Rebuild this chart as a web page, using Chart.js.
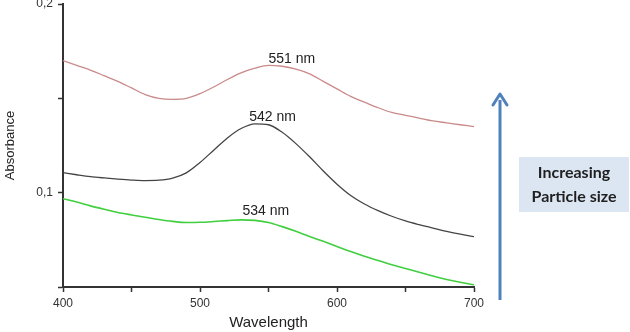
<!DOCTYPE html>
<html>
<head>
<meta charset="utf-8">
<script src="https://cdn.jsdelivr.net/npm/chart.js@4/dist/chart.umd.min.js"></script>
<style>
    html, body { margin: 0; padding: 0; background: #fff; }
    #wrap { width: 630px; height: 332px; position: relative; }
</style>
</head>
<body>
<div id="wrap"><canvas id="absChart" width="630" height="332"></canvas></div>
<script>

var wavelengths = [400, 410, 420, 430, 440, 450, 460, 470, 480, 490, 500, 510, 520, 530, 540, 550,
    560, 570, 580, 590, 600, 610, 620, 630, 640, 650, 660, 670, 680, 690, 700];

var largeParticles = [0.1700, 0.1675, 0.1650, 0.1620, 0.1590, 0.1555, 0.1520, 0.1500, 0.1495, 0.1500,
    0.1525, 0.1560, 0.1600, 0.1635, 0.1660, 0.1675, 0.1670, 0.1655, 0.1630, 0.1590, 0.1550, 0.1510,
    0.1480, 0.1450, 0.1425, 0.1410, 0.1395, 0.1380, 0.1370, 0.1360, 0.1350];

var mediumParticles = [0.1106, 0.1095, 0.1085, 0.1078, 0.1072, 0.1067, 0.1064, 0.1066, 0.1077, 0.1105,
    0.1160, 0.1225, 0.1290, 0.1340, 0.1365, 0.1360, 0.1320, 0.1260, 0.1190, 0.1115, 0.1045, 0.0985,
    0.0940, 0.0905, 0.0875, 0.0850, 0.0830, 0.0812, 0.0795, 0.0780, 0.0767];

var smallParticles = [0.0968, 0.0950, 0.0930, 0.0912, 0.0895, 0.0882, 0.0870, 0.0858, 0.0848, 0.0842,
    0.0843, 0.0847, 0.0852, 0.0856, 0.0853, 0.0842, 0.0820, 0.0795, 0.0768, 0.0742, 0.0715, 0.0688,
    0.0663, 0.0640, 0.0618, 0.0598, 0.0578, 0.0558, 0.0540, 0.0525, 0.0512];

// peak labels: text, x (nm), y (absorbance) where the label sits
var peakLabels = ['551 nm', '542 nm', '534 nm'];
var peakLabelX = [567, 553, 548];
var peakLabelY = [0.1710, 0.1400, 0.0900];

var xTickLabels = [400, 500, 600, 700];
var yTickLabels = [0.1, 0.2];

function toPoints(values) {
    return wavelengths.map((w, i) => ({ x: w, y: values[i] }));
}

function hasLabel(list, v) {
    return list.some(e => Math.abs(e - v) < 1e-6);
}

var extras = {
    id: 'extras',
    afterDraw: function (chart) {
        var ctx = chart.ctx;
        var xs = chart.scales.x, ys = chart.scales.y;
        ctx.save();

        // peak labels
        ctx.font = '14px "Liberation Sans", Arial, sans-serif';
        ctx.fillStyle = '#222';
        ctx.textAlign = 'center';
        ctx.textBaseline = 'middle';
        peakLabels.forEach(function (t, i) {
            ctx.fillText(t, xs.getPixelForValue(peakLabelX[i]), ys.getPixelForValue(peakLabelY[i]));
        });

        // arrow
        ctx.strokeStyle = '#4f81bd';
        ctx.fillStyle = '#4f81bd';
        ctx.lineWidth = 3;
        ctx.beginPath();
        ctx.moveTo(500, 300);
        ctx.lineTo(500, 100);
        ctx.stroke();
        ctx.lineWidth = 3;
        ctx.lineCap = 'round';
        ctx.lineJoin = 'round';
        ctx.beginPath();
        ctx.moveTo(493, 105);
        ctx.lineTo(500, 94);
        ctx.lineTo(507, 105);
        ctx.stroke();

        // note box
        ctx.fillStyle = '#dce6f2';
        ctx.fillRect(519, 157, 110, 55);
        ctx.fillStyle = '#1f1f1f';
        ctx.font = 'bold 16px Lato, "Open Sans", sans-serif';
        ctx.fillText('Increasing', 574, 173);
        ctx.fillText('Particle size', 574, 197);

        ctx.restore();
    }
};

(function () {
    var ctx = document.getElementById('absChart');
    new Chart(ctx, {
        type: 'line',
        data: {
            datasets: [
                { data: toPoints(largeParticles), borderColor: '#c98a8a', borderWidth: 1.3 },
                { data: toPoints(mediumParticles), borderColor: '#444444', borderWidth: 1.3 },
                { data: toPoints(smallParticles), borderColor: '#3fcf3f', borderWidth: 1.6 }
            ]
        },
        options: {
            responsive: false,
            animation: false,
            layout: { padding: { left: 0, right: 156, top: 4, bottom: 0 } },
            elements: { point: { radius: 0 }, line: { cubicInterpolationMode: 'monotone' } },
            plugins: { legend: { display: false }, tooltip: { enabled: false } },
            scales: {
                x: {
                    type: 'linear',
                    min: 400,
                    max: 700,
                    afterFit: s => { s.height = 45; s.paddingLeft = 0; s.paddingRight = 0; },
                    border: { color: '#333', width: 2 },
                    grid: { drawOnChartArea: false, drawTicks: true, tickLength: 5, color: '#333', tickWidth: 1.5 },
                    ticks: {
                        stepSize: 50,
                        color: '#333',
                        padding: 4,
                        maxRotation: 0,
                        font: { family: '"Liberation Sans", Arial, sans-serif', size: 12 },
                        callback: v => hasLabel(xTickLabels, v) ? String(v) : ''
                    },
                    title: {
                        display: true,
                        text: 'Wavelength',
                        color: '#222',
                        padding: { top: 2, bottom: 0 },
                        font: { family: '"Liberation Sans", Arial, sans-serif', size: 15 }
                    }
                },
                y: {
                    min: 0.05,
                    max: 0.2,
                    afterFit: s => { s.width = 63; s.paddingTop = 0; s.paddingBottom = 0; },
                    border: { color: '#333', width: 2 },
                    grid: { drawOnChartArea: false, drawTicks: true, tickLength: 5, color: '#333', tickWidth: 1.5 },
                    ticks: {
                        stepSize: 0.05,
                        color: '#333',
                        padding: 5,
                        font: { family: '"Liberation Sans", Arial, sans-serif', size: 12 },
                        callback: v => hasLabel(yTickLabels, v) ? v.toFixed(1).replace('.', ',') : ''
                    },
                    title: {
                        display: true,
                        text: 'Absorbance',
                        color: '#222',
                        padding: { top: 3, bottom: 2 },
                        font: { family: '"Liberation Sans", Arial, sans-serif', size: 13 }
                    }
                }
            }
        },
        plugins: [extras]
    });
})();

</script>
</body>
</html>
